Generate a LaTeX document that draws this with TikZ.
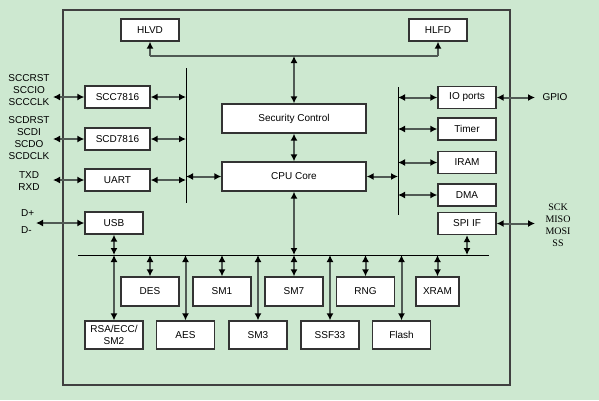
\documentclass[tikz,border=0pt]{standalone}
\usepackage{fontspec}
\setmainfont{Liberation Sans}
\newfontfamily\serifpins{Liberation Serif}
\usetikzlibrary{arrows.meta}
\definecolor{bggreen}{RGB}{205,232,208}
\definecolor{wiregray}{RGB}{80,90,84}

\begin{document}
\begin{tikzpicture}[x=1pt,y=-1pt,
	blk/.style={draw=black!80, line width=1.3pt, fill=white, minimum width=58pt, minimum height=22pt, inner sep=0pt, font=\fontsize{10}{12}\selectfont},
	biarrow/.style={draw=wiregray, line width=2pt, {Latex[length=7pt,width=7pt,color=black]}-{Latex[length=7pt,width=7pt,color=black]}},
	uparrow/.style={draw=wiregray, line width=2pt, -{Latex[length=7pt,width=7pt,color=black]}},
	bus/.style={draw=black, line width=1pt},
	pins/.style={align=center, font=\fontsize{10}{12}\selectfont, inner sep=0pt}]
	\fill[bggreen] (0,0) rectangle (599,400);
	\draw[draw=black!75, line width=1.4pt] (63,10) rectangle (510,385);
	% top row
	\node[blk] (hlvd) at (150,30) {HLVD};
	\node[blk] (hlfd) at (438,30) {HLFD};
	\node[blk, minimum width=144pt, minimum height=29pt] (secctl) at (294,118.5) {Security Control};
	\node[blk, minimum width=144pt, minimum height=29pt] (cpu) at (294,176.5) {CPU Core};
	% left side
	\node[blk, minimum width=65pt] (scc) at (117.5,97) {SCC7816};
	\node[blk, minimum width=65pt] (scd) at (117.5,139) {SCD7816};
	\node[blk, minimum width=65pt] (uart) at (117.5,180) {UART};
	\node[blk] (usb) at (114,223) {USB};
	% right side
	\node[blk] (ioport) at (467,97.5) {IO ports};
	\node[blk] (timer) at (467,129) {Timer};
	\node[blk] (iram) at (467,162.5) {IRAM};
	\node[blk] (dma) at (467,195) {DMA};
	\node[blk] (spi) at (467,223.5) {SPI IF};
	% crypto and memory
	\node[blk, minimum height=29pt] (des) at (150,291.5) {DES};
	\node[blk, minimum height=29pt] (smone) at (222,291.5) {SM1};
	\node[blk, minimum height=29pt] (smseven) at (294,291.5) {SM7};
	\node[blk, minimum height=29pt] (rng) at (365.5,291.5) {RNG};
	\node[blk, minimum height=29pt, minimum width=43pt] (xram) at (437.5,291.5) {XRAM};
	\node[blk, minimum height=28pt, align=center] (rsa) at (114,335) {RSA/ECC/\\SM2};
	\node[blk, minimum height=28pt] (aes) at (185.5,335) {AES};
	\node[blk, minimum height=28pt] (smthree) at (258,335) {SM3};
	\node[blk, minimum height=28pt] (ssf) at (330,335) {SSF33};
	\node[blk, minimum height=28pt] (flash) at (401.5,335) {Flash};
	% buses
	\coordinate (tbus) at (294,56);
	\coordinate (lbusT) at (186,68);
	\coordinate (lbusB) at (186,203);
	\coordinate (rbusT) at (398,87);
	\coordinate (rbusB) at (398,215);
	\coordinate (bbusL) at (78,255);
	\coordinate (bbusR) at (489,255);
	\coordinate (extL) at (53,0);
	\coordinate (extU) at (36,0);
	\coordinate (extR) at (535,0);
	\draw[bus] (lbusT) -- (lbusB);
	\draw[bus] (rbusT) -- (rbusB);
	\draw[bus] (bbusL) -- (bbusR);
	\draw[draw=wiregray, line width=2pt] (tbus -| hlvd.south) -- (tbus -| hlfd.south);
	\draw[uparrow] (tbus -| hlvd.south) -- (hlvd.south);
	\draw[uparrow] (tbus -| hlfd.south) -- (hlfd.south);
	\draw[biarrow] (tbus) -- (secctl.north);
	\draw[biarrow] (secctl.south) -- (cpu.north);
	\draw[biarrow] (cpu.west -| lbusT) -- (cpu.west);
	\draw[biarrow] (cpu.east) -- (cpu.east -| rbusT);
	\draw[biarrow] (cpu.south) -- (cpu.south |- bbusL);
	% left peripherals
	\foreach \p in {scc,scd,uart} {
		\draw[biarrow] (\p.east) -- (\p.east -| lbusT);
		\draw[biarrow] (\p.west -| extL) -- (\p.west);
	}
	\draw[biarrow] (usb.west -| extU) -- (usb.west);
	\draw[biarrow] (usb.south) -- (usb.south |- bbusL);
	% right peripherals
	\foreach \p in {ioport,timer,iram,dma}
		\draw[biarrow] (\p.west -| rbusT) -- (\p.west);
	\draw[biarrow] (ioport.east) -- (ioport.east -| extR);
	\draw[biarrow] (spi.east) -- (spi.east -| extR);
	\draw[biarrow] (spi.south) -- (spi.south |- bbusL);
	% lower bus
	\foreach \p in {des,smone,smseven,rng,xram,rsa,aes,smthree,ssf,flash}
		\draw[biarrow] (\p.north |- bbusL) -- (\p.north);
	% pin names
	\node[pins] (sccpins) at (29,90) {SCCRST\\SCCIO\\SCCCLK};
	\node[pins] (scdpins) at (29,138.5) {SCDRST\\SCDI\\SCDO\\SCDCLK};
	\node[pins] (uartpins) at (29,181) {TXD\\RXD};
	\node[pins, anchor=west] (dplus) at (21,213) {D+};
	\node[pins, anchor=west] (dminus) at (21,230) {D-};
	\node[pins] (gpio) at (555,97) {GPIO};
	\node[pins, font=\serifpins\fontsize{10}{12}\selectfont] (spipins) at (558,225) {SCK\\MISO\\MOSI\\SS};
\end{tikzpicture}
\end{document}
